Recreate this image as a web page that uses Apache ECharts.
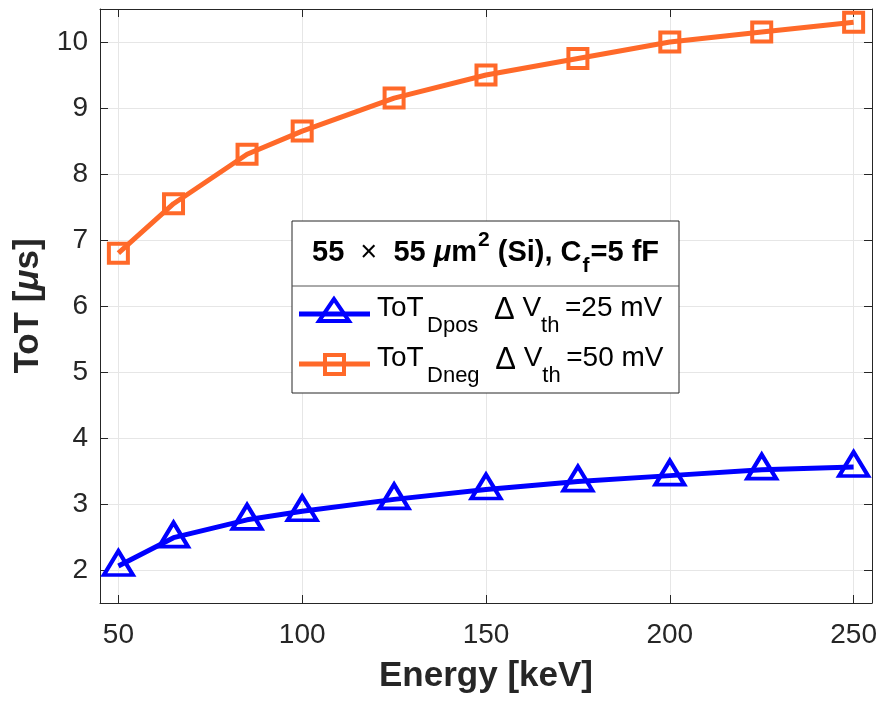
<!DOCTYPE html>
<html>
<head>
<meta charset="utf-8">
<script src="https://cdn.jsdelivr.net/npm/echarts@6/dist/echarts.min.js"></script>
<style>
  html, body { margin: 0; padding: 0; background: #ffffff; }
  #chart { width: 880px; height: 701px; }
</style>
</head>
<body>
<div id="chart"></div>
<script>
// Energy points (keV) and time-over-threshold (µs) for the two discriminators
const energy = [50, 65, 85, 100, 125, 150, 175, 200, 225, 250];
const totDpos = [2.06, 2.49, 2.76, 2.89, 3.07, 3.22, 3.34, 3.43, 3.52, 3.56];
const totDneg = [6.8, 7.55, 8.3, 8.65, 9.15, 9.5, 9.75, 10.0, 10.15, 10.3];

// Tick positions
const xTicks = [50, 100, 150, 200, 250];
const yTicks = [2, 3, 4, 5, 6, 7, 8, 9, 10];

const BLUE = '#0000ff';
const ORANGE = '#ff6929';
const AXIS = '#262626';
const GRIDC = '#e6e6e6';
const FONT = '"Liberation Sans", Arial, Helvetica, sans-serif';

const chart = echarts.init(document.getElementById('chart'), null, { renderer: 'canvas' });

const pairs = (ys) => energy.map((e, i) => [e, ys[i]]);

// Shared look for the framed (box) axes
function boxAxis(extra) {
  return Object.assign({
    type: 'value',
    axisLine: { show: true, onZero: false, lineStyle: { color: AXIS, width: 1 } },
    axisTick: { show: true, inside: true, length: 8, lineStyle: { color: AXIS, width: 1 } },
    axisLabel: { show: false },
    splitLine: { show: false }
  }, extra);
}

// Rich-text styles for the legend entries (main text + subscript)
const entryRich = {
  m: { fontSize: 28, lineHeight: 28, fontFamily: FONT, fill: '#000', verticalAlign: 'top' },
  d: { fontSize: 31, lineHeight: 28, fontFamily: FONT, fill: '#000', verticalAlign: 'top' },
  s: { fontSize: 22, lineHeight: 22, fontFamily: FONT, fill: '#000', verticalAlign: 'top', padding: [20, 0, 0, 0] },
  g: { fontSize: 12, lineHeight: 12, fontFamily: FONT, fill: '#000', verticalAlign: 'top' },
  g2: { fontSize: 20, lineHeight: 12, fontFamily: FONT, fill: '#000', verticalAlign: 'top' }
};

const option = {
  animation: false,
  backgroundColor: '#ffffff',
  grid: { left: 100, right: 8, top: 9, bottom: 98, containLabel: false },
  xAxis: [
    boxAxis({
      position: 'bottom',
      min: 45, max: 255,
      axisTick: { show: true, inside: true, length: 8, customValues: xTicks, lineStyle: { color: AXIS, width: 1 } },
      axisLabel: { show: true, customValues: xTicks, margin: 18, color: AXIS, fontSize: 28, fontFamily: FONT },
      splitLine: { show: true, lineStyle: { color: GRIDC, width: 1 } },
      name: 'Energy [keV]',
      nameLocation: 'middle',
      nameGap: 56,
      nameTextStyle: { color: AXIS, fontSize: 35, fontWeight: 'bold', fontFamily: FONT }
    }),
    boxAxis({
      position: 'top',
      min: 45, max: 255,
      axisTick: { show: true, inside: true, length: 8, customValues: xTicks, lineStyle: { color: AXIS, width: 1 } }
    })
  ],
  yAxis: [
    boxAxis({
      position: 'left',
      min: 1.5, max: 10.5,
      axisTick: { show: true, inside: true, length: 8, customValues: yTicks, lineStyle: { color: AXIS, width: 1 } },
      axisLabel: { show: true, customValues: yTicks, margin: 12, color: AXIS, fontSize: 28, fontFamily: FONT },
      splitLine: { show: true, lineStyle: { color: GRIDC, width: 1 } },
      name: '{b|ToT [}{i|μ}{b|s]}',
      nameLocation: 'middle',
      nameGap: 54,
      nameTextStyle: {
        color: AXIS, fontFamily: FONT,
        rich: {
          b: { fontSize: 35, fontWeight: 'bold', fontFamily: FONT, color: AXIS },
          i: { fontSize: 35, fontWeight: 'bold', fontStyle: 'italic', fontFamily: FONT, color: AXIS }
        }
      }
    }),
    boxAxis({
      position: 'right',
      min: 1.5, max: 10.5,
      axisTick: { show: true, inside: true, length: 8, customValues: yTicks, lineStyle: { color: AXIS, width: 1 } }
    })
  ],
  series: [
    {
      name: 'ToT Dpos',
      type: 'line',
      data: pairs(totDpos),
      symbol: 'triangle',
      symbolSize: [29, 24],
      symbolOffset: [0, -3],
      showAllSymbol: true,
      lineStyle: { color: BLUE, width: 5 },
      itemStyle: { color: 'rgba(255,255,255,0)', borderColor: BLUE, borderWidth: 4 },
      emphasis: { disabled: true },
      z: 3
    },
    {
      name: 'ToT Dneg',
      type: 'line',
      data: pairs(totDneg),
      symbol: 'rect',
      symbolSize: 19,
      showAllSymbol: true,
      lineStyle: { color: ORANGE, width: 5 },
      itemStyle: { color: 'rgba(255,255,255,0)', borderColor: ORANGE, borderWidth: 4 },
      emphasis: { disabled: true },
      z: 3
    }
  ],
  graphic: [
    // legend frame
    {
      type: 'rect', z: 10,
      shape: { x: 292, y: 221, width: 387, height: 172 },
      style: { fill: '#ffffff', stroke: AXIS, lineWidth: 1 }
    },
    {
      type: 'line', z: 11,
      shape: { x1: 292, y1: 286, x2: 679, y2: 286 },
      style: { stroke: '#555555', lineWidth: 1 }
    },
    // legend title
    {
      type: 'text', z: 11,
      style: {
        x: 485.5, y: 230, align: 'center', verticalAlign: 'top',
        text: '{b|55  }{x|×}{b|  55 }{bi|μ}{b|m}{sup|2}{b| (Si), C}{bs|f}{b|=5 fF}',
        rich: {
          b: { fontSize: 29, lineHeight: 29, fontWeight: 'bold', fontFamily: FONT, fill: '#000', verticalAlign: 'top', padding: [8, 0, 0, 0] },
          x: { fontSize: 29, lineHeight: 29, fontFamily: FONT, fill: '#000', verticalAlign: 'top', padding: [8, 0, 0, 0] },
          bi: { fontSize: 29, lineHeight: 29, fontWeight: 'bold', fontStyle: 'italic', fontFamily: FONT, fill: '#000', verticalAlign: 'top', padding: [8, 0, 0, 0] },
          sup: { fontSize: 21, lineHeight: 21, fontWeight: 'bold', fontFamily: FONT, fill: '#000', verticalAlign: 'top', padding: [0, 0, 0, 1] },
          bs: { fontSize: 21, lineHeight: 21, fontWeight: 'bold', fontFamily: FONT, fill: '#000', verticalAlign: 'top', padding: [26, 1, 0, 1] }
        }
      }
    },
    // legend key: Dpos
    {
      type: 'line', z: 11,
      shape: { x1: 299, y1: 314, x2: 370, y2: 314 },
      style: { stroke: BLUE, lineWidth: 5 }
    },
    {
      type: 'polygon', z: 12,
      shape: { points: [[334, 299], [319, 321], [349, 321]] },
      style: { fill: 'none', stroke: BLUE, lineWidth: 4 }
    },
    {
      type: 'text', z: 11,
      style: {
        x: 377, y: 294.5, align: 'left', verticalAlign: 'top',
        text: '{m|ToT}{g| }{s|Dpos}{m|  }{d|Δ}{m| V}{s|th}{g2| }{m|=25 mV}',
        rich: entryRich
      }
    },
    // legend key: Dneg
    {
      type: 'line', z: 11,
      shape: { x1: 299, y1: 364, x2: 370, y2: 364 },
      style: { stroke: ORANGE, lineWidth: 5 }
    },
    {
      type: 'rect', z: 12,
      shape: { x: 325, y: 355, width: 19, height: 19 },
      style: { fill: 'none', stroke: ORANGE, lineWidth: 4 }
    },
    {
      type: 'text', z: 11,
      style: {
        x: 377, y: 344.5, align: 'left', verticalAlign: 'top',
        text: '{m|ToT}{g| }{s|Dneg}{m|  }{d|Δ}{m| V}{s|th}{g2| }{m|=50 mV}',
        rich: entryRich
      }
    }
  ]
};

chart.setOption(option);
</script>
</body>
</html>
